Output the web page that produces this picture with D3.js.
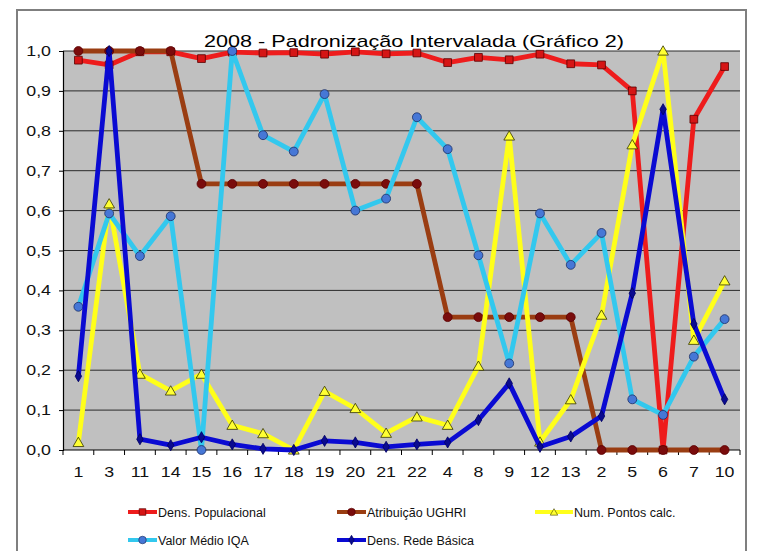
<!DOCTYPE html>
<html>
<head>
<meta charset="utf-8">
<script src="https://cdn.jsdelivr.net/npm/d3@7"></script>
<style>
  html, body { margin: 0; padding: 0; background: #fff; }
  svg { display: block; font-family: "Liberation Sans", Arial, sans-serif; }
</style>
</head>
<body>
<svg id="chart" width="760" height="551"></svg>
<script>
// Categories (sampling points) in plotting order
const categories = ["1","3","11","14","15","16","17","18","19","20","21","22","4","8","9","12","13","2","5","6","7","10"];

// Standardised series (0–1)
const densPopulacional = [0.977,0.965,0.998,0.998,0.981,0.997,0.995,0.996,0.992,0.998,0.993,0.995,0.971,0.984,0.978,0.992,0.968,0.965,0.900,0.0,0.829,0.961];
const atribuicaoUGHRI  = [1,1,1,1,0.667,0.667,0.667,0.667,0.667,0.667,0.667,0.667,0.333,0.333,0.333,0.333,0.333,0,0,0,0,0];
const numPontosCalc    = [0.019,0.617,0.190,0.148,0.190,0.062,0.041,0.0,0.147,0.104,0.042,0.083,0.062,0.210,0.787,0.020,0.126,0.338,0.765,1.0,0.275,0.424];
const valorMedioIQA    = [0.359,0.593,0.486,0.586,0.0,1.0,0.789,0.748,0.892,0.600,0.630,0.834,0.754,0.488,0.217,0.593,0.464,0.544,0.127,0.088,0.234,0.328];
const densRedeBasica   = [0.185,1.0,0.027,0.012,0.032,0.014,0.003,0.0,0.023,0.019,0.008,0.014,0.019,0.075,0.167,0.008,0.034,0.085,0.393,0.854,0.316,0.127];

const yTicks = [0,0.1,0.2,0.3,0.4,0.5,0.6,0.7,0.8,0.9,1.0];

const series = [
  { name: "Dens. Populacional", values: densPopulacional, color: "#ee1c1c", marker: "square",   mfill: "#d51515", mstroke: "#5a0000" },
  { name: "Atribuição UGHRI",   values: atribuicaoUGHRI,  color: "#9a3d12", marker: "circle",   mfill: "#7a0c0c", mstroke: "#5a0000" },
  { name: "Num. Pontos calc.",  values: numPontosCalc,    color: "#ffff1a", marker: "triangle", mfill: "#ffff33", mstroke: "#333300" },
  { name: "Valor Médio IQA",    values: valorMedioIQA,    color: "#33c8ee", marker: "circle",   mfill: "#4677d6", mstroke: "#1a2f66" },
  { name: "Dens. Rede Básica",  values: densRedeBasica,   color: "#0a0ad2", marker: "diamond",  mfill: "#0a0a90", mstroke: "#000060" }
];

const svg = d3.select("#chart");
const H = 551;
const plot = { left: 63, right: 740, top: 51, bottom: 450 };
const stretch = 1.27; // wide lettering used for title and axis labels

// Outer chart frame
svg.append("rect").attr("x", 17).attr("y", 10).attr("width", 729).attr("height", H + 20)
  .attr("fill", "#fff").attr("stroke", "#7f7f7f").attr("stroke-width", 2);

const x = d3.scaleBand().domain(categories).range([plot.left, plot.right]).padding(0);
const y = d3.scaleLinear().domain([0, 1]).range([plot.bottom, plot.top]);

// Plot background
svg.append("rect").attr("x", plot.left).attr("y", plot.top)
  .attr("width", plot.right - plot.left).attr("height", plot.bottom - plot.top)
  .attr("fill", "#c0c0c0");

// Horizontal gridlines
svg.append("g").selectAll("line").data(yTicks.slice(1)).join("line")
  .attr("x1", plot.left).attr("x2", plot.right)
  .attr("y1", d => y(d)).attr("y2", d => y(d))
  .attr("stroke", "#2a2a2a").attr("stroke-width", 1);

// Y axis (labels drawn separately so they can be widened)
const yAxis = d3.axisLeft(y).tickValues(yTicks).tickSize(4).tickFormat("");
const gy = svg.append("g").attr("transform", `translate(${plot.left},0)`).call(yAxis);
gy.select(".domain").attr("stroke", "#000").attr("stroke-width", 1.2);
gy.selectAll(".tick line").attr("stroke", "#000");
const fmt = d => d3.format(".1f")(d).replace(".", ",");
svg.append("g").selectAll("text").data(yTicks).join("text")
  .attr("transform", d => `translate(${plot.left - 12},${y(d) + 5}) scale(${stretch},1)`)
  .attr("text-anchor", "end").attr("font-size", 14).attr("fill", "#111")
  .text(fmt);

// X axis: ticks at category boundaries, labels centred under each category
const gx = svg.append("g").attr("transform", `translate(0,${plot.bottom})`);
gx.append("line").attr("x1", plot.left).attr("x2", plot.right).attr("y1", 0).attr("y2", 0)
  .attr("stroke", "#000").attr("stroke-width", 1.2);
const boundaries = categories.map(c => x(c)).concat([x(categories[categories.length - 1]) + x.bandwidth()]);
gx.selectAll("line.tk").data(boundaries).join("line").attr("class", "tk")
  .attr("x1", d => d).attr("x2", d => d).attr("y1", 0).attr("y2", 5)
  .attr("stroke", "#000").attr("stroke-width", 1);
gx.selectAll("text").data(categories).join("text")
  .attr("transform", d => `translate(${x(d) + x.bandwidth() / 2},27) scale(${stretch},1)`)
  .attr("text-anchor", "middle").attr("font-size", 14).attr("fill", "#111")
  .text(d => d);

// Marker shapes
const symbolFor = m => ({
  square: d3.symbol().type(d3.symbolSquare).size(60),
  circle: d3.symbol().type(d3.symbolCircle).size(62),
  triangle: d3.symbol().type(d3.symbolTriangle).size(50),
  diamond: d3.symbol().type(d3.symbolDiamond).size(36)
})[m];

const line = d3.line()
  .x((d, i) => x(categories[i]) + x.bandwidth() / 2)
  .y(d => y(d));

const gSeries = svg.append("g");
series.forEach(s => {
  const g = gSeries.append("g");
  g.append("path").datum(s.values).attr("d", line)
    .attr("fill", "none").attr("stroke", s.color).attr("stroke-width", 4.8)
    .attr("stroke-linejoin", "round");
  g.selectAll("path.m").data(s.values).join("path").attr("class", "m")
    .attr("d", symbolFor(s.marker))
    .attr("transform", (d, i) => `translate(${x(categories[i]) + x.bandwidth() / 2},${y(d) + (s.marker === "triangle" ? 1 : 0)})`)
    .attr("fill", s.mfill).attr("stroke", s.mstroke).attr("stroke-width", 0.8);
});

// Title
svg.append("text").attr("transform", `translate(414,47) scale(${stretch},1)`).attr("text-anchor", "middle")
  .attr("font-size", 17).attr("fill", "#000")
  .text("2008 - Padronização Intervalada (Gráfico 2)");

// Legend
const legendPos = [
  { x: 128, y: 512, w: 29 },
  { x: 337, y: 512, w: 29 },
  { x: 535, y: 512, w: 38 },
  { x: 128, y: 540, w: 29 },
  { x: 337, y: 540, w: 29 }
];
const legend = svg.append("g");
series.forEach((s, i) => {
  const p = legendPos[i];
  const g = legend.append("g").attr("transform", `translate(${p.x},${p.y})`);
  g.append("line").attr("x1", 0).attr("x2", p.w).attr("y1", 0).attr("y2", 0)
    .attr("stroke", s.color).attr("stroke-width", 4);
  g.append("path").attr("d", symbolFor(s.marker))
    .attr("transform", `translate(${p.w / 2},${s.marker === "triangle" ? 1 : 0}) scale(${s.marker === "triangle" ? 0.7 : 0.85})`)
    .attr("fill", s.mfill).attr("stroke", s.mstroke).attr("stroke-width", 0.8);
  g.append("text").attr("x", p.w + 1).attr("y", 4.5)
    .attr("font-size", 12.5).attr("fill", "#111").text(s.name);
});
</script>
</body>
</html>
